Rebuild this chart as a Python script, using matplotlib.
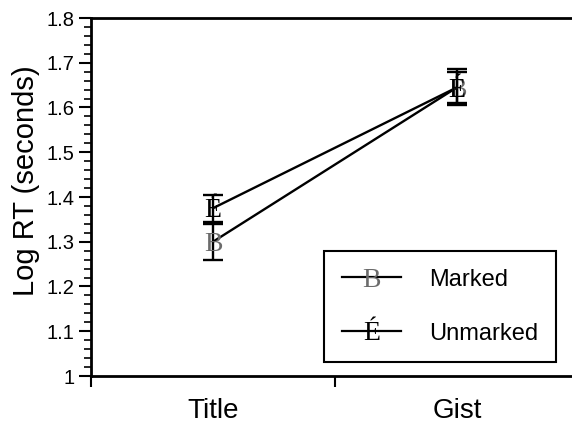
import matplotlib
matplotlib.use("Agg")
import matplotlib.pyplot as plt
import numpy as np
from matplotlib.legend_handler import HandlerBase
from matplotlib.lines import Line2D
from matplotlib.text import Text
from matplotlib.transforms import offset_copy
from matplotlib.ticker import MultipleLocator, FuncFormatter

# Task conditions and mean log response times (with standard errors)
conditions = ["Title", "Gist"]
marked_rt = [1.30, 1.645]
marked_err = [0.04, 0.04]
unmarked_rt = [1.375, 1.645]
unmarked_err = [0.03, 0.035]
series_labels = ["Marked", "Unmarked"]
series_glyphs = ["B", "É"]
series_colors = ["#6b6b6b", "#000000"]

SANS = "Liberation Sans"
SERIF = "Liberation Serif"
GLYPH_SIZE = 20


class GlyphKey:
    def __init__(self, glyph, color):
        self.glyph = glyph
        self.color = color


class GlyphHandler(HandlerBase):
    """Legend key: a line with a letter drawn on its middle."""

    def create_artists(self, legend, orig_handle, xdescent, ydescent,
                       width, height, fontsize, trans):
        yc = height / 2.0 - ydescent
        line = Line2D([-xdescent, width - xdescent], [yc, yc],
                      color="black", lw=1.6, transform=trans)
        txt = Text(width / 2.0 - xdescent, yc - 0.33 * GLYPH_SIZE,
                   orig_handle.glyph, color=orig_handle.color,
                   fontsize=GLYPH_SIZE, family=SERIF,
                   ha="center", va="baseline", transform=trans)
        return [line, txt]


fig = plt.figure(figsize=(5.72, 4.23), dpi=100)
ax = fig.add_axes([91 / 572, (423 - 376) / 423, 488 / 572, (376 - 18) / 423])

xpos = np.arange(len(conditions)) + 0.5
glyph_trans = offset_copy(ax.transData, fig=fig, y=-0.33 * GLYPH_SIZE,
                          units="points")

keys = []
for vals, errs, glyph, color in zip([marked_rt, unmarked_rt],
                                    [marked_err, unmarked_err],
                                    series_glyphs, series_colors):
    ax.errorbar(xpos, vals, yerr=errs, color="black", lw=1.7,
                elinewidth=1.7, capsize=7, capthick=1.7, zorder=2)
    for x, y in zip(xpos, vals):
        ax.text(x, y, glyph, transform=glyph_trans, color=color,
                fontsize=GLYPH_SIZE, family=SERIF, ha="center",
                va="baseline", zorder=3)
    keys.append(GlyphKey(glyph, color))

# Axes frame
ax.set_xlim(0, 2)
ax.set_ylim(1.0, 1.8)
for side in ("left", "top", "bottom"):
    ax.spines[side].set_linewidth(2)
ax.spines["right"].set_visible(False)

ax.yaxis.set_major_locator(MultipleLocator(0.1))
ax.yaxis.set_minor_locator(MultipleLocator(0.02))
ax.yaxis.set_major_formatter(FuncFormatter(lambda v, p: f"{v:g}"))
ax.tick_params(axis="y", which="major", direction="out", length=9,
               width=1.5, pad=3, labelsize=14.5)
ax.tick_params(axis="y", which="minor", direction="out", length=5,
               width=1.2)
for lab in ax.get_yticklabels():
    lab.set_family(SANS)

ax.set_xticks(xpos, conditions)
ax.set_xticks([0, 1, 2], minor=True)
ax.tick_params(axis="x", which="major", length=0, pad=16, labelsize=20)
ax.tick_params(axis="x", which="minor", direction="out", length=8,
               width=1.5)
for lab in ax.get_xticklabels():
    lab.set_family(SANS)

ax.set_ylabel("Log RT (seconds)", fontsize=21, family=SANS)
ax.yaxis.set_label_coords(-0.105, 0.545)

leg = ax.legend(keys, series_labels, handler_map={GlyphKey: GlyphHandler()},
                loc="upper left", bbox_to_anchor=(324 / 572, 1 - 251 / 423),
                bbox_transform=fig.transFigure, borderaxespad=0,
                prop={"family": SANS, "size": 17}, handlelength=2.5,
                handletextpad=1.2, labelspacing=1.35, borderpad=0.75,
                fancybox=False, framealpha=1, edgecolor="black")
leg.get_frame().set_linewidth(1.5)

fig.savefig("out.png", dpi=100)
